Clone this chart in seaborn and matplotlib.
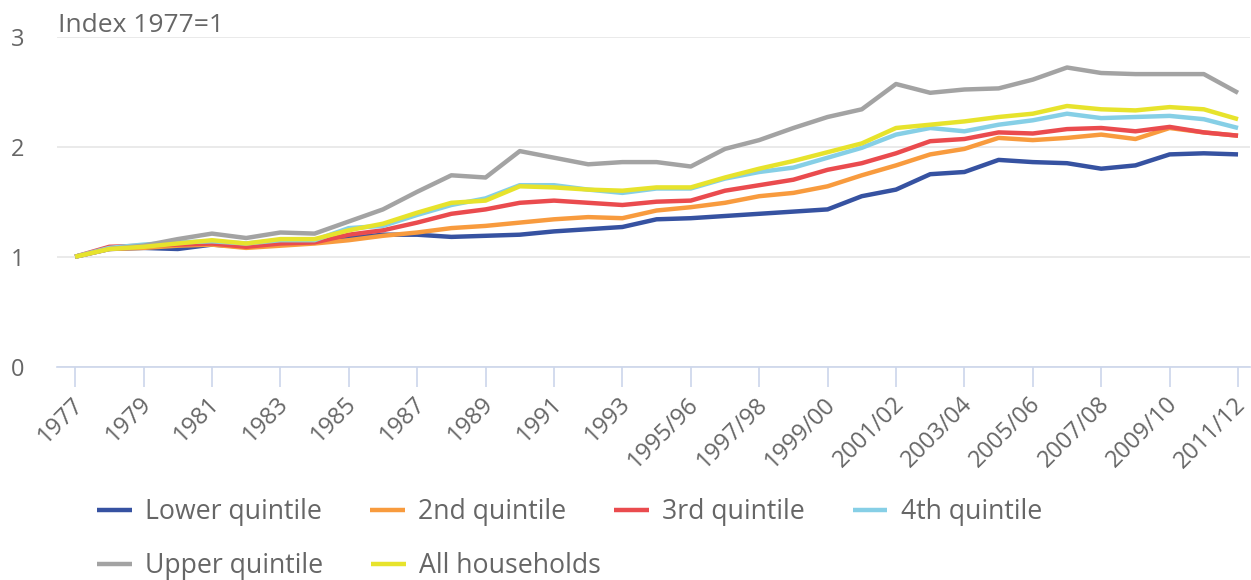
import pandas as pd
import matplotlib
matplotlib.use("Agg")
import matplotlib.pyplot as plt
import matplotlib.transforms as mtransforms
import seaborn as sns

# -------------------------------
# Data: household income index (1977 = 1)
# -------------------------------
years = ['1977', '1978', '1979', '1980', '1981', '1982', '1983', '1984', '1985',
         '1986', '1987', '1988', '1989', '1990', '1991', '1992', '1993',
         '1994/95', '1995/96', '1996/97', '1997/98', '1998/99', '1999/00',
         '2000/01', '2001/02', '2002/03', '2003/04', '2004/05', '2005/06',
         '2006/07', '2007/08', '2008/09', '2009/10', '2010/11', '2011/12']

lower = [1.00, 1.07, 1.08, 1.07, 1.11, 1.09, 1.12, 1.13, 1.17, 1.20, 1.20, 1.18,
         1.19, 1.20, 1.23, 1.25, 1.27, 1.34, 1.35, 1.37, 1.39, 1.41, 1.43, 1.55,
         1.61, 1.75, 1.77, 1.88, 1.86, 1.85, 1.80, 1.83, 1.93, 1.94, 1.93]
second = [1.00, 1.07, 1.08, 1.10, 1.11, 1.08, 1.10, 1.12, 1.15, 1.19, 1.22, 1.26,
          1.28, 1.31, 1.34, 1.36, 1.35, 1.42, 1.45, 1.49, 1.55, 1.58, 1.64, 1.74,
          1.83, 1.93, 1.98, 2.08, 2.06, 2.08, 2.11, 2.07, 2.17, 2.13, 2.10]
third = [1.00, 1.09, 1.10, 1.11, 1.12, 1.09, 1.12, 1.13, 1.20, 1.24, 1.31, 1.39,
         1.43, 1.49, 1.51, 1.49, 1.47, 1.50, 1.51, 1.60, 1.65, 1.70, 1.79, 1.85,
         1.94, 2.05, 2.07, 2.13, 2.12, 2.16, 2.17, 2.14, 2.18, 2.13, 2.10]
fourth = [1.00, 1.08, 1.11, 1.13, 1.14, 1.12, 1.15, 1.15, 1.26, 1.28, 1.38, 1.47,
          1.53, 1.65, 1.65, 1.61, 1.58, 1.62, 1.62, 1.71, 1.77, 1.81, 1.90, 1.99,
          2.11, 2.17, 2.14, 2.20, 2.24, 2.30, 2.26, 2.27, 2.28, 2.25, 2.17]
upper = [1.00, 1.07, 1.10, 1.16, 1.21, 1.17, 1.22, 1.21, 1.32, 1.43, 1.59, 1.74,
         1.72, 1.96, 1.90, 1.84, 1.86, 1.86, 1.82, 1.98, 2.06, 2.17, 2.27, 2.34,
         2.57, 2.49, 2.52, 2.53, 2.61, 2.72, 2.67, 2.66, 2.66, 2.66, 2.49]
all_hh = [1.00, 1.07, 1.09, 1.12, 1.15, 1.12, 1.16, 1.16, 1.24, 1.30, 1.40, 1.49,
          1.51, 1.64, 1.63, 1.61, 1.60, 1.63, 1.63, 1.72, 1.80, 1.87, 1.95, 2.03,
          2.17, 2.20, 2.23, 2.27, 2.30, 2.37, 2.34, 2.33, 2.36, 2.34, 2.25]

series_names = ['Lower quintile', '2nd quintile', '3rd quintile',
                '4th quintile', 'Upper quintile', 'All households']
series_values = [lower, second, third, fourth, upper, all_hh]
colors = ['#3652a1', '#f89b3e', '#ea4b4e', '#86cfe6', '#a3a3a3', '#e7e32c']

# long-form table for seaborn
rows = []
for name, vals in zip(series_names, series_values):
    for i, v in enumerate(vals):
        rows.append({'pos': i, 'index': v, 'series': name})
df = pd.DataFrame(rows)

# -------------------------------
# Plot
# -------------------------------
sns.set_style("white")
plt.rcParams['font.family'] = ['Open Sans', 'DejaVu Sans']
text_col = '#666666'
axis_col = '#ccd6eb'

fig = plt.figure(figsize=(12.51, 5.8), dpi=100)
ax = fig.add_axes([57 / 1251, 1 - 366.7 / 580, 1193 / 1251, 330 / 580])

sns.lineplot(data=df, x='pos', y='index', hue='series', hue_order=series_names,
             palette=dict(zip(series_names, colors)), linewidth=3.2, sort=False,
             estimator=None, ax=ax, legend=False)

ax.set_xlim(-0.53, 34.35)
ax.set_ylim(0, 3)
ax.set_yticks([0, 1, 2, 3])
ax.set_xticks(range(0, len(years), 2))
ax.set_xticklabels(years[::2], rotation=45, ha='right', rotation_mode='anchor')
ax.set_xlabel('')
ax.set_ylabel('')

ax.grid(axis='y', color='#e6e6e6', linewidth=1.2)
ax.grid(axis='x', visible=False)
ax.set_axisbelow(True)
for s in ['top', 'right', 'left']:
    ax.spines[s].set_visible(False)
ax.spines['bottom'].set_color(axis_col)
ax.spines['bottom'].set_linewidth(1.2)

ax.tick_params(axis='y', left=False, length=0, pad=33, labelsize=17,
               labelcolor=text_col)
ax.tick_params(axis='x', bottom=True, length=14.5, width=1.2, color=axis_col,
               pad=4, labelsize=17, labelcolor=text_col)
for lab in ax.get_yticklabels():
    lab.set_horizontalalignment('left')
# nudge the rotated labels a little to the left
shift = mtransforms.ScaledTranslation(-4 / 100, 0, fig.dpi_scale_trans)
for lab in ax.get_xticklabels():
    lab.set_transform(lab.get_transform() + shift)

fig.text(58 / 1251, 1 - 31.7 / 580, 'Index 1977=1', fontsize=19,
         color=text_col, va='baseline', ha='left')

# legend in two rows, like the original
handles = ax.get_lines()[:len(series_names)]
leg_kw = dict(frameon=False, fontsize=19.2, labelcolor=text_col, handlelength=1.3,
              handletextpad=0.5, columnspacing=1.8, borderpad=0, borderaxespad=0,
              loc='center left')
for h in handles:
    h.set_solid_capstyle('butt')
fig.legend(handles[:4], series_names[:4], ncol=4,
           bbox_to_anchor=(97 / 1251, 1 - 512 / 580), **leg_kw)
fig.legend(handles[4:], series_names[4:], ncol=2,
           bbox_to_anchor=(97 / 1251, 1 - 566 / 580), **leg_kw)

plt.savefig('out.png', dpi=100)
